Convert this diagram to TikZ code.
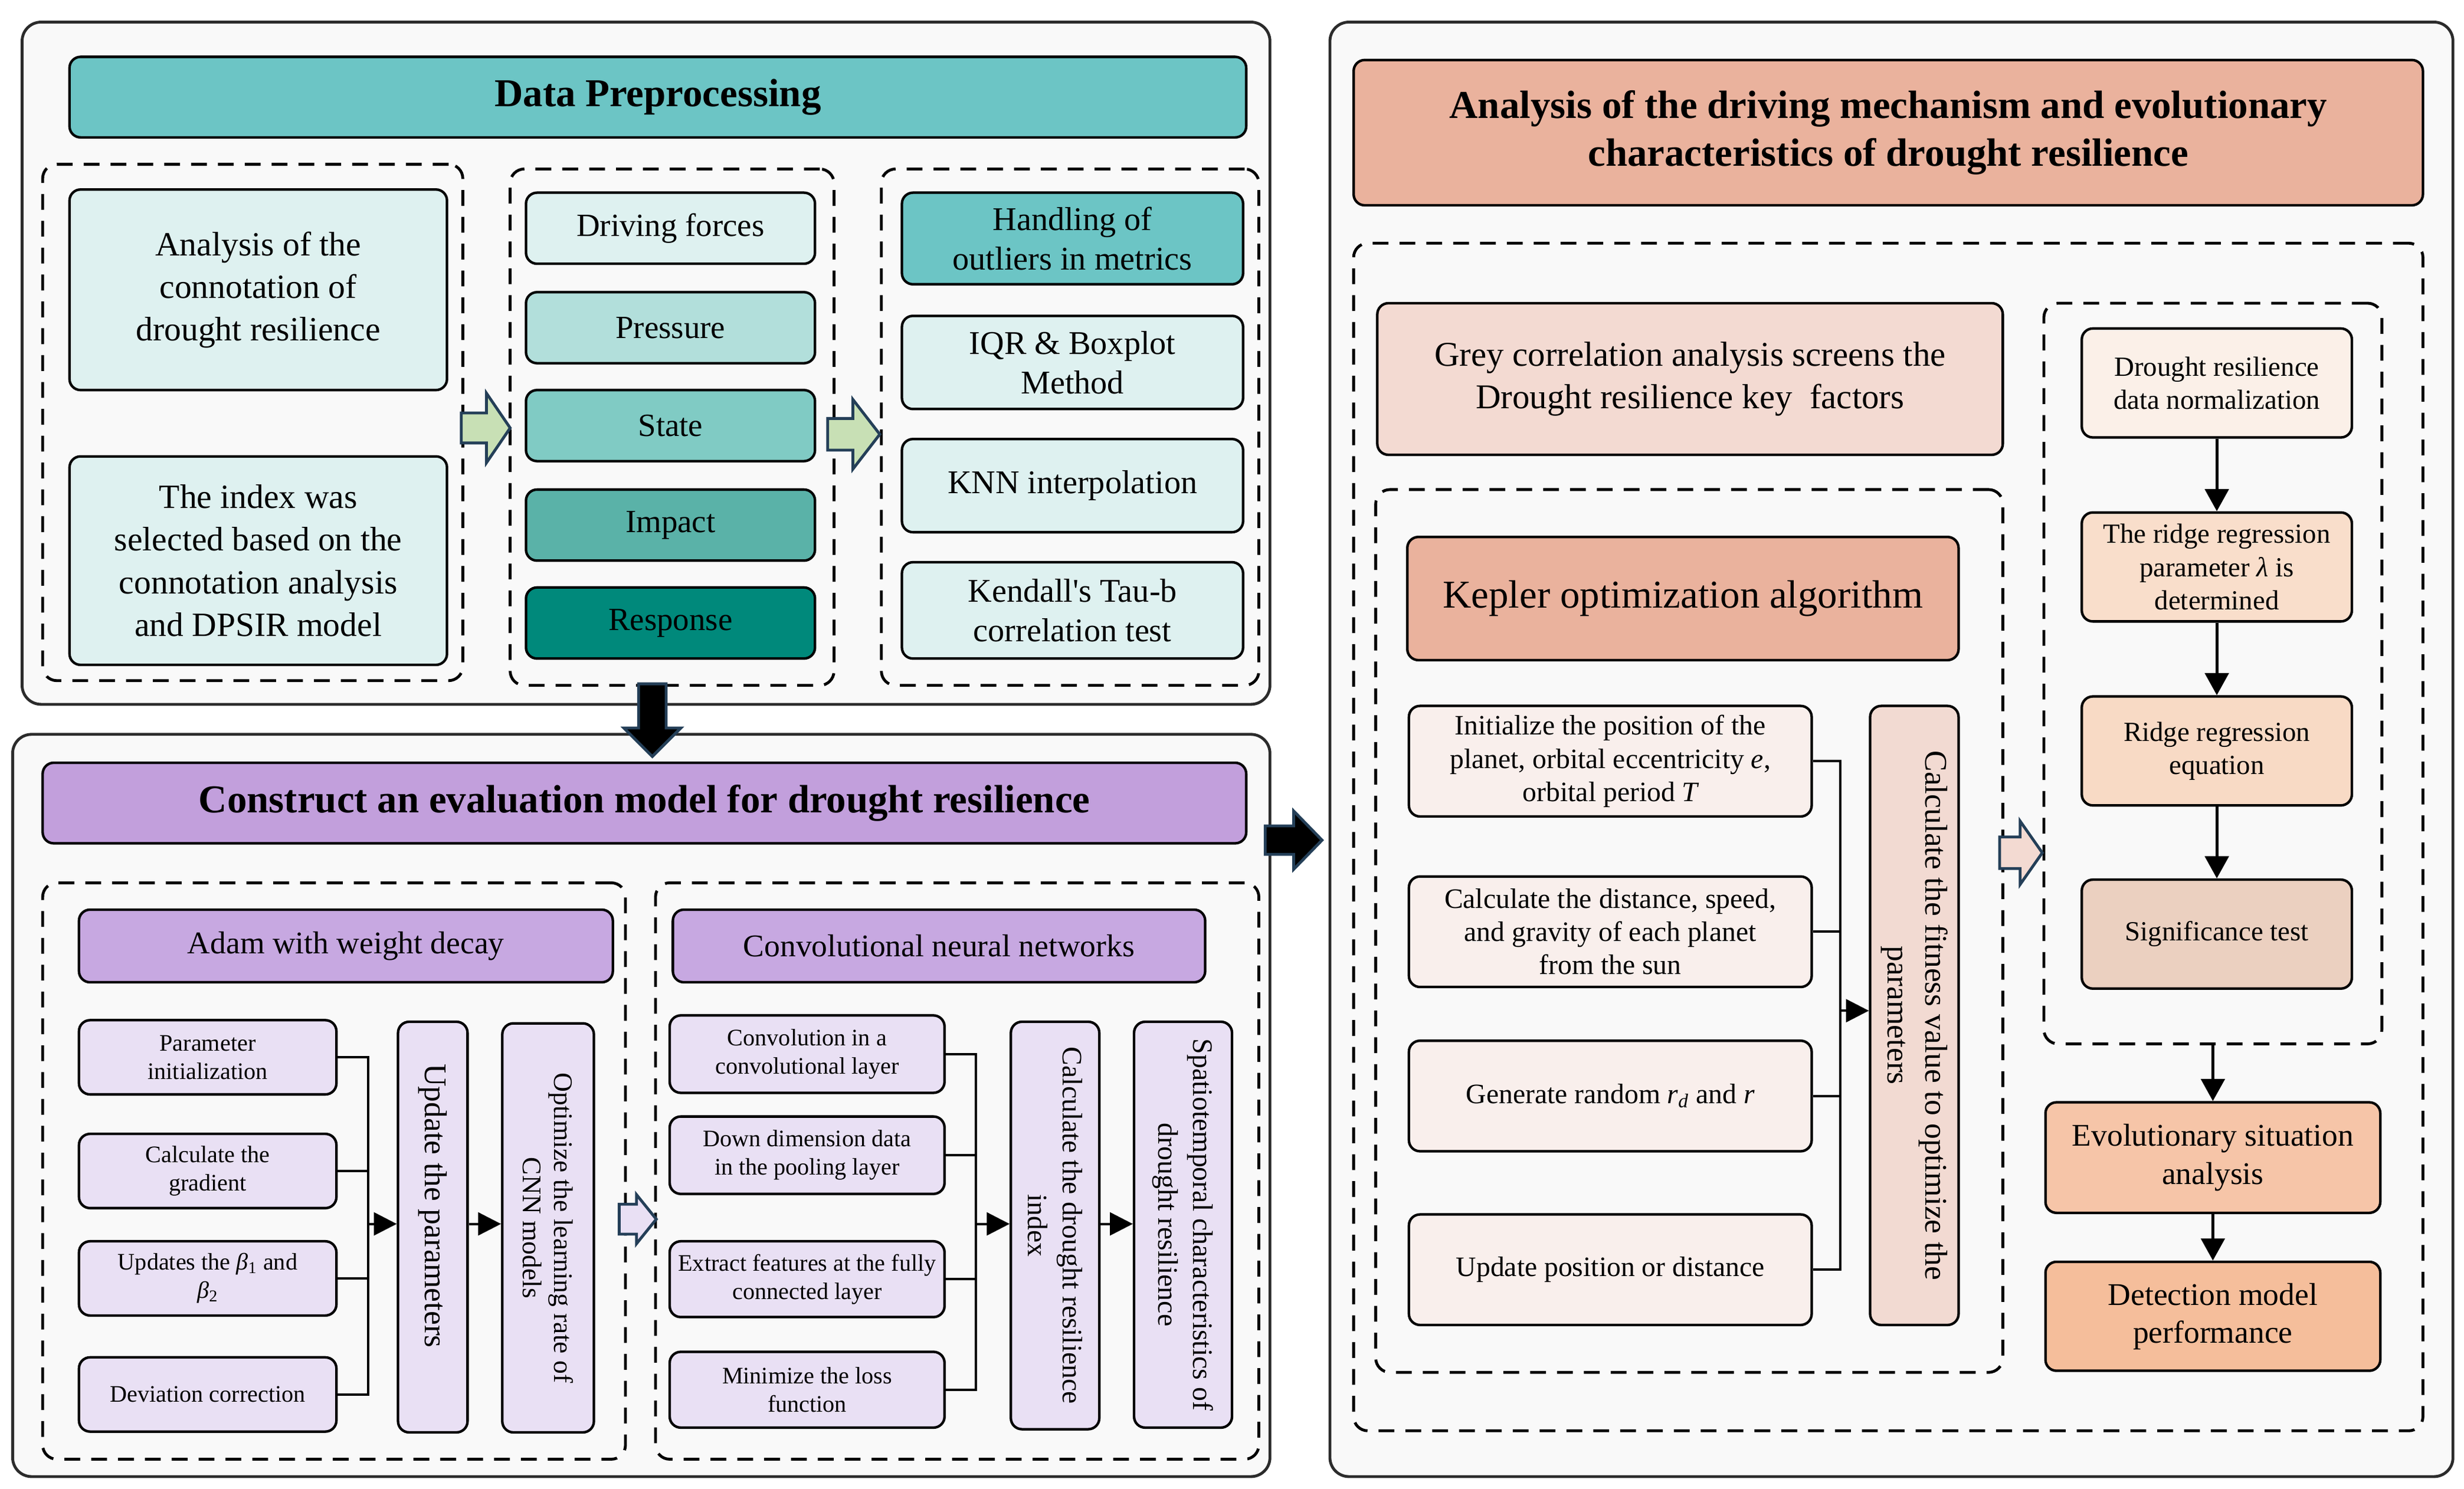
\documentclass[tikz,border=0pt]{standalone}
\usepackage{fontspec}
\setmainfont{Liberation Serif}
\usetikzlibrary{arrows.meta}
\definecolor{cPanel}{HTML}{2B2B2B}
\definecolor{cPanelBg}{HTML}{F9F9F9}
\definecolor{tealT}{HTML}{6CC5C5}
\definecolor{tealL}{HTML}{DEF1F0}
\definecolor{tealP}{HTML}{B2DFDB}
\definecolor{tealS}{HTML}{80CBC4}
\definecolor{tealI}{HTML}{5AB2A8}
\definecolor{tealR}{HTML}{00897B}
\definecolor{purT}{HTML}{C29FDC}
\definecolor{purH}{HTML}{C7A8E1}
\definecolor{purL}{HTML}{E9E0F4}
\definecolor{salT}{HTML}{EAB29D}
\definecolor{salG}{HTML}{F3DAD2}
\definecolor{salL}{HTML}{F9EFEC}
\definecolor{salF}{HTML}{F2DAD2}
\definecolor{rN}{HTML}{FBF0E8}
\definecolor{rP}{HTML}{F9DECB}
\definecolor{rE}{HTML}{F8DAC5}
\definecolor{rS}{HTML}{EBD0C0}
\definecolor{rV}{HTML}{F6C5A8}
\definecolor{rD}{HTML}{F5BE9B}
\definecolor{gArr}{HTML}{C8E0B5}
\definecolor{navy}{HTML}{243F58}
\begin{document}
\begin{tikzpicture}[x=1pt,y=-1pt,
  panel/.style={draw=cPanel, line width=1.8pt, fill=cPanelBg, rounded corners=12pt, inner sep=0pt},
  dbox/.style={draw=black, line width=1.8pt, dash pattern=on 10pt off 7pt, rounded corners=9pt, inner sep=0pt},
  bx/.style={draw=black, line width=1.6pt, rounded corners=7pt, align=center, inner sep=2pt, text=black},
  ttl/.style={bx, font=\fontsize{25}{30}\selectfont\bfseries},
  ln/.style={line width=1.5pt},
  arr/.style={ln, -{Triangle[length=14.5pt,width=14.5pt]}},
  varr/.style={line width=1.8pt, -{Triangle[length=14pt,width=15pt]}},
  blk/.style={draw=navy, line width=1.8pt, line join=miter}
]
\useasboundingbox (0,0) rectangle (1560,942.5);
\fill[white] (0,0) rectangle (1560,942.5);

% ---------------- Panel A ----------------
\node[panel, minimum width=790pt, minimum height=432pt] (pA) at (409,230) {};
\node[ttl, fill=tealT, minimum width=745pt, minimum height=51pt] (tA) at (416.5,61.5) {Data Preprocessing};

\node[dbox, minimum width=266pt, minimum height=327pt] (d1) at (160,267.5) {};
\node[bx, fill=tealL, minimum width=239pt, minimum height=127pt, font=\fontsize{21.5}{27}\selectfont] (a1) at (163.5,183.5) {Analysis of the\\connotation of\\drought resilience};
\node[bx, fill=tealL, minimum width=239pt, minimum height=132pt, font=\fontsize{21.5}{27}\selectfont] (a2) at (163.5,355) {The index was\\selected based on the\\connotation analysis\\and DPSIR model};

\node[dbox, minimum width=205pt, minimum height=327pt] (d2) at (425.5,270.5) {};
\tikzset{dp/.style={bx, minimum width=183pt, minimum height=45pt, font=\fontsize{20.5}{24}\selectfont}}
\node[dp, fill=tealL] (b1) at (424.5,144.5) {Driving forces};
\node[dp, fill=tealP] (b2) at (424.5,207.5) {Pressure};
\node[dp, fill=tealS] (b3) at (424.5,269.5) {State};
\node[dp, fill=tealI] (b4) at (424.5,332.5) {Impact};
\node[dp, fill=tealR] (b5) at (424.5,394.5) {Response};

\node[dbox, minimum width=239pt, minimum height=327pt] (d3) at (677.5,270.5) {};
\tikzset{hb/.style={bx, fill=tealL, minimum width=216pt, minimum height=59pt, font=\fontsize{21}{25}\selectfont}}
\node[hb, fill=tealT, minimum height=58pt] (h1) at (679,151) {Handling of\\outliers in metrics};
\node[hb] (h2) at (679,229.5) {IQR \& Boxplot\\Method};
\node[hb] (h3) at (679,307.5) {KNN interpolation};
\node[hb, minimum height=61pt] (h4) at (679,386.5) {Kendall\textquotesingle s Tau-b\\correlation test};

% ---------------- Panel B ----------------
\node[panel, minimum width=796pt, minimum height=470pt] (pB) at (406,700) {};
\node[ttl, fill=purT, minimum width=762pt, minimum height=51pt] (tB) at (408,508.5) {Construct an evaluation model for drought resilience};

\node[dbox, minimum width=369pt, minimum height=365pt] (e1) at (211.5,741.5) {};
\node[bx, fill=purH, minimum width=338pt, minimum height=46pt, font=\fontsize{20}{24}\selectfont] (adam) at (219,599) {Adam with weight decay};
\tikzset{pb/.style={bx, fill=purL, minimum width=163pt, minimum height=47pt, font=\fontsize{15}{18}\selectfont}}
\node[pb] (p1) at (131.5,669.5) {Parameter\\initialization};
\node[pb] (p2) at (131.5,741.5) {Calculate the\\gradient};
\node[pb] (p3) at (131.5,809.5) {Updates the {\itshape β}\textsubscript{1} and\\{\itshape β}\textsubscript{2}};
\node[pb] (p4) at (131.5,883) {Deviation correction};
\node[bx, fill=purL, rotate=-90, minimum width=260pt, minimum height=44pt, font=\fontsize{20}{24}\selectfont] (upd) at (274,777) {Update the parameters\hspace*{27pt}};
\node[bx, fill=purL, rotate=-90, minimum width=259pt, minimum height=58pt, font=\fontsize{17}{20}\selectfont] (opt) at (347,777.5) {Optimize the learning rate of\\CNN models};

\coordinate (bA) at (233,775);
\draw[ln] (p1.east) -| (bA);
\draw[ln] (p4.east) -| (bA);
\draw[ln] (p2.east) -- (p2.east -| bA);
\draw[ln] (p3.east) -- (p3.east -| bA);
\draw[arr] (bA) -- (bA -| upd.south);
\draw[arr] (bA -| upd.north) -- (bA -| opt.south);

\node[dbox, minimum width=382pt, minimum height=365pt] (e2) at (606,741.5) {};
\node[bx, fill=purH, minimum width=337pt, minimum height=46pt, font=\fontsize{20}{24}\selectfont] (cnn) at (594.5,599) {Convolutional neural networks};
\tikzset{cb/.style={bx, fill=purL, minimum width=174pt, minimum height=48pt, font=\fontsize{15}{18}\selectfont}}
\node[cb, minimum height=49pt] (c1) at (511,667.5) {Convolution in a\\convolutional layer};
\node[cb, minimum height=49pt] (c2) at (511,731.5) {Down dimension data\\in the pooling layer};
\node[cb] (c3) at (511,810) {Extract features at the fully\\connected layer};
\node[cb] (c4) at (511,880) {Minimize the loss\\function};
\node[bx, fill=purL, rotate=-90, minimum width=258pt, minimum height=56pt, font=\fontsize{17.8}{22}\selectfont] (calc) at (668,776) {Calculate the drought resilience\\index};
\node[bx, fill=purL, rotate=-90, minimum width=257pt, minimum height=62pt, font=\fontsize{17.9}{22}\selectfont] (spat) at (749,775.5) {Spatiotemporal characteristics of\\drought resilience};

\coordinate (bC) at (618,775);
\draw[ln] (c1.east) -| (bC);
\draw[ln] (c4.east) -| (bC);
\draw[ln] (c2.east) -- (c2.east -| bC);
\draw[ln] (c3.east) -- (c3.east -| bC);
\draw[arr] (bC) -- (bC -| calc.south);
\draw[arr] (bC -| calc.north) -- (bC -| spat.south);

% ---------------- Panel C ----------------
\node[panel, minimum width=711pt, minimum height=921pt] (pC) at (1197.5,474.5) {};
\node[ttl, fill=salT, minimum width=677pt, minimum height=92pt] (tC) at (1195.5,84) {Analysis of the driving mechanism and evolutionary\\characteristics of drought resilience};

\node[dbox, minimum width=677pt, minimum height=752pt] (f0) at (1195.5,530) {};
\node[bx, fill=salG, minimum width=396pt, minimum height=96pt, font=\fontsize{22}{27}\selectfont] (grey) at (1070,240) {Grey correlation analysis screens the\\Drought resilience key\enspace factors};

\node[dbox, minimum width=397pt, minimum height=559pt] (f1) at (1069.5,589.5) {};
\node[bx, fill=salT, minimum width=349pt, minimum height=78pt, font=\fontsize{25}{30}\selectfont] (kep) at (1065.5,379) {Kepler optimization algorithm};
\tikzset{kb/.style={bx, fill=salL, minimum width=255pt, minimum height=70pt, font=\fontsize{17.8}{21}\selectfont}}
\node[kb] (k1) at (1019.5,482) {Initialize the position of the\\planet, orbital eccentricity {\itshape e},\\orbital period {\itshape T}};
\node[kb] (k2) at (1019.5,590) {Calculate the distance, speed,\\and gravity of each planet\\from the sun};
\node[kb] (k3) at (1019.5,694) {Generate random {\itshape r}\textsubscript{\itshape d} and {\itshape r}};
\node[kb] (k4) at (1019.5,804) {Update position or distance};
\node[bx, fill=salF, rotate=-90, minimum width=392pt, minimum height=56pt, font=\fontsize{20}{24}\selectfont] (fit) at (1212,643) {Calculate the fitness value to optimize the\\parameters};

\coordinate (bK) at (1165,640);
\draw[ln] (k1.east) -| (bK);
\draw[ln] (k4.east) -| (bK);
\draw[ln] (k2.east) -- (k2.east -| bK);
\draw[ln] (k3.east) -- (k3.east -| bK);
\draw[arr] (bK) -- (bK -| fit.south);

\node[dbox, minimum width=214pt, minimum height=469pt] (f2) at (1401,426.5) {};
\tikzset{rb/.style={bx, minimum width=171pt, minimum height=69pt, font=\fontsize{17.5}{21}\selectfont}}
\node[rb, fill=rN] (r1) at (1403.5,242.5) {Drought resilience\\data normalization};
\node[rb, fill=rP] (r2) at (1403.5,359) {The ridge regression\\parameter {\itshape λ} is\\determined};
\node[rb, fill=rE] (r3) at (1403.5,475.5) {Ridge regression\\equation};
\node[rb, fill=rS] (r4) at (1403.5,591.5) {Significance test};
\draw[varr] (r1) -- (r2);
\draw[varr] (r2) -- (r3);
\draw[varr] (r3) -- (r4);

\node[bx, fill=rV, minimum width=212pt, minimum height=70pt, font=\fontsize{20}{24}\selectfont] (ev) at (1401,733) {Evolutionary situation\\analysis};
\node[bx, fill=rD, minimum width=212pt, minimum height=69pt, font=\fontsize{20}{24}\selectfont] (det) at (1401,833.5) {Detection model\\performance};
\draw[varr] (f2.south) -- (ev.north);
\draw[varr] (ev) -- (det);

% ---------------- block arrows ----------------
\filldraw[blk, fill=gArr] (292,261.5) -- (308,261.5) -- (308,249) -- (323,271) -- (308,293) -- (308,280.5) -- (292,280.5) -- cycle;
\filldraw[blk, fill=gArr] (524,265) -- (540,265) -- (540,253) -- (557,275) -- (540,297) -- (540,285) -- (524,285) -- cycle;
\filldraw[blk, fill=purL] (392,762.5) -- (403,762.5) -- (403,756.5) -- (415.5,772) -- (403,787.5) -- (403,781.5) -- (392,781.5) -- cycle;
\filldraw[blk, fill=salG] (1266,530) -- (1279,530) -- (1279,520) -- (1293,540) -- (1279,560) -- (1279,550) -- (1266,550) -- cycle;
\filldraw[blk, fill=black] (801,523) -- (819,523) -- (819,513.5) -- (837,532) -- (819,550.5) -- (819,541) -- (801,541) -- cycle;
\filldraw[blk, fill=black] (404.25,433) -- (404.25,461) -- (395,461) -- (413,479) -- (431,461) -- (421.75,461) -- (421.75,433) -- cycle;
\end{tikzpicture}
\end{document}
